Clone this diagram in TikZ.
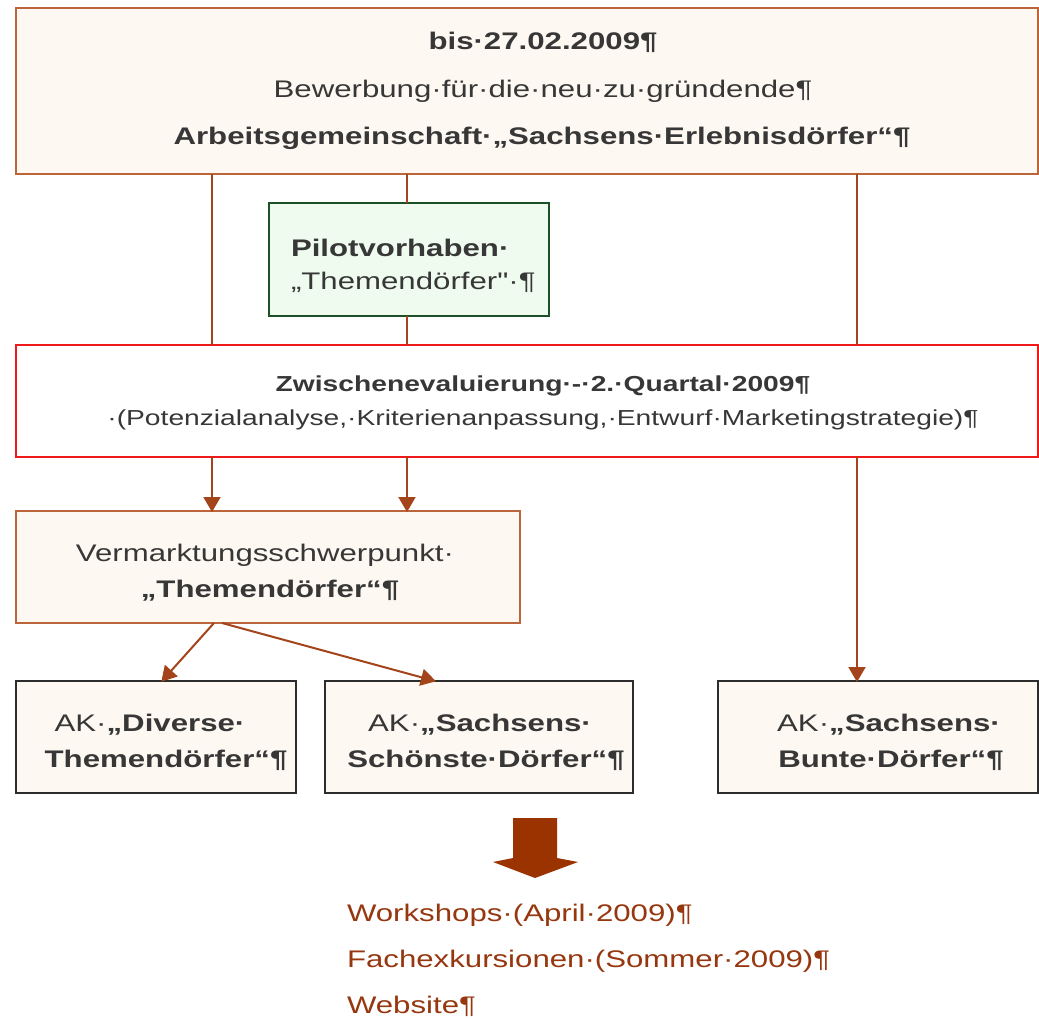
\documentclass[tikz,border=0pt]{standalone}
\usepackage{fontspec}
\setmainfont{Liberation Sans}[FakeStretch=1.3]
\newfontfamily\nomap{Liberation Sans}[FakeStretch=1.3,Ligatures=ResetAll]
\usetikzlibrary{arrows.meta}
\definecolor{linec}{RGB}{163,68,26}
\definecolor{boxc}{RGB}{188,100,58}
\definecolor{creamc}{RGB}{253,248,242}
\definecolor{greenc}{RGB}{30,80,40}
\definecolor{greenfill}{RGB}{240,251,240}
\definecolor{redc}{RGB}{240,25,25}
\definecolor{darkc}{RGB}{45,45,45}
\definecolor{txtc}{RGB}{55,55,55}
\definecolor{brownt}{RGB}{150,55,15}
\definecolor{bigarr}{RGB}{154,51,0}
\begin{document}
\begin{tikzpicture}[x=1pt,y=-1pt,
  frame/.style={rectangle, inner sep=0pt, outer sep=0pt, line width=2pt},
  obox/.style={frame, draw=boxc, fill=creamc},
  gbox/.style={frame, draw=greenc, fill=greenfill},
  rbox/.style={frame, draw=redc, fill=white},
  kbox/.style={frame, draw=darkc, fill=creamc},
  txt/.style={inner sep=0pt, outer sep=0pt, text=txtc, font=\fontsize{24}{29}\selectfont},
  stxt/.style={inner sep=0pt, outer sep=0pt, text=txtc, font=\fontsize{21.7}{26}\selectfont},
  btxt/.style={inner sep=0pt, outer sep=0pt, text=brownt, font=\fontsize{24}{29}\selectfont},
  conn/.style={draw=linec, line width=2pt},
  arr/.style={conn, -{Triangle[length=15pt,width=17pt]}, shorten >=-1pt}
]
\useasboundingbox (0,0) rectangle (1039,1018);
\fill[white] (0,0) rectangle (1039,1018);

% boxes
\node[obox, minimum width=1022pt, minimum height=166pt] (top) at (527,91) {};
\node[gbox, minimum width=280pt, minimum height=113pt] (pilot) at (409,259.5) {};
\node[rbox, minimum width=1022pt, minimum height=112pt] (zw) at (527,401) {};
\node[obox, minimum width=504pt, minimum height=112pt] (verm) at (268,567) {};
\node[kbox, minimum width=280pt, minimum height=112pt] (div) at (156,737) {};
\node[kbox, minimum width=308pt, minimum height=112pt] (sch) at (479,737) {};
\node[kbox, minimum width=320pt, minimum height=112pt] (bun) at (878,737) {};

% x positions of connectors
\coordinate (xa) at (212,0);
\coordinate (xb) at (407,0);
\coordinate (xc) at (857,0);
\coordinate (v1) at (214,0);
\coordinate (d1) at (162,0);
\coordinate (v2) at (222,0);
\coordinate (s1) at (435,0);

% connectors
\draw[conn] (top.south -| xa) -- (zw.north -| xa);
\draw[conn] (top.south -| xb) -- (pilot.north -| xb);
\draw[conn] (pilot.south -| xb) -- (zw.north -| xb);
\draw[conn] (top.south -| xc) -- (zw.north -| xc);
\draw[arr] (zw.south -| xa) -- (verm.north -| xa);
\draw[arr] (zw.south -| xb) -- (verm.north -| xb);
\draw[arr] (zw.south -| xc) -- (bun.north -| xc);
\draw[arr] (verm.south -| v1) -- (div.north -| d1);
\draw[arr] (verm.south -| v2) -- (sch.north -| s1);

% texts
\node[txt, anchor=base] (t1) at (543,49) {\bfseries bis·27.02.2009¶};
\node[txt, anchor=base] (t2) at (543,97) {Bewerbung·für·die·neu·zu·gründende¶};
\node[txt, anchor=base] (t3) at (542,144) {\bfseries Arbeitsgemeinschaft·„Sachsens·Erlebnisdörfer“¶};

\node[txt, anchor=base west] (p1) at (291,256) {\bfseries Pilotvorhaben·};
\node[txt, anchor=base west] (p2) at (291,289) {„Themendörfer{\nomap\symbol{34}}·¶};

\node[stxt, anchor=base] (z1) at (543,391) {\bfseries Zwischenevaluierung·-·2.·Quartal·2009¶};
\node[stxt, anchor=base] (z2) at (543,425) {·(Potenzialanalyse,·Kriterienanpassung,·Entwurf·Marketingstrategie)¶};

\node[txt, anchor=base] (m1) at (265,561) {Vermarktungsschwerpunkt·};
\node[txt, anchor=base] (m2) at (270,597) {\bfseries „Themendörfer“¶};

\node[txt, anchor=base] (a1) at (150,731) {AK·\textbf{„Diverse·}};
\node[txt, anchor=base] (a2) at (166,767) {\bfseries Themendörfer“¶};
\node[txt, anchor=base] (b1) at (480,731) {AK·\textbf{„Sachsens·}};
\node[txt, anchor=base] (b2) at (486,767) {\bfseries Schönste·Dörfer“¶};
\node[txt, anchor=base] (c1) at (889,731) {AK·\textbf{„Sachsens·}};
\node[txt, anchor=base] (c2) at (891,767) {\bfseries Bunte·Dörfer“¶};

% big arrow
\fill[bigarr] (513,818) -- (557,818) -- (557,858) -- (578,862) -- (535,878) -- (493,862) -- (513,858) -- cycle;

\node[btxt, anchor=base west] (w1) at (347,921) {Workshops·(April·2009)¶};
\node[btxt, anchor=base west] (w2) at (347,967) {Fachexkursionen·(Sommer·2009)¶};
\node[btxt, anchor=base west] (w3) at (347,1013) {Website¶};
\end{tikzpicture}
\end{document}
